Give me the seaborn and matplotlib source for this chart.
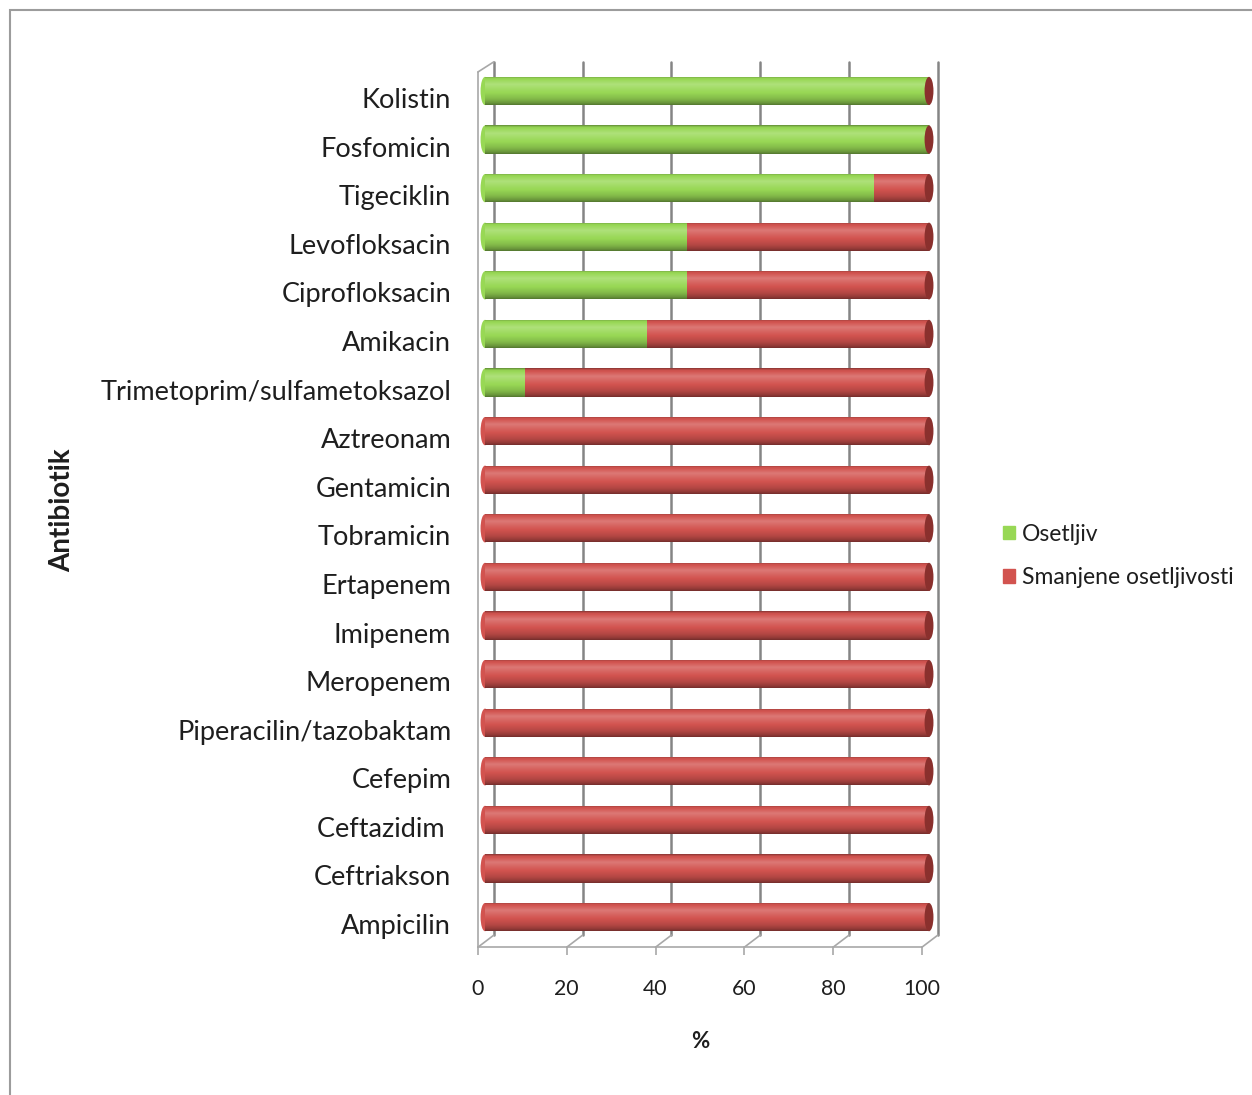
import numpy as np
import pandas as pd
import matplotlib
matplotlib.use("Agg")
import matplotlib.pyplot as plt
import matplotlib.transforms as mtransforms
import seaborn as sns
from matplotlib.patches import Ellipse, Rectangle

# Susceptibility of isolates per antibiotic (%)
antibiotics = [
    "Kolistin", "Fosfomicin", "Tigeciklin", "Levofloksacin", "Ciprofloksacin",
    "Amikacin", "Trimetoprim/sulfametoksazol", "Aztreonam", "Gentamicin",
    "Tobramicin", "Ertapenem", "Imipenem", "Meropenem",
    "Piperacilin/tazobaktam", "Cefepim", "Ceftazidim ", "Ceftriakson", "Ampicilin",
]
osetljiv = [100, 100, 87.5, 45.5, 45.5, 36.4, 9.1, 0, 0, 0, 0, 0, 0, 0, 0, 0, 0, 0]
smanjene = [0, 0, 12.5, 54.5, 54.5, 63.6, 90.9, 100, 100, 100, 100, 100, 100, 100, 100, 100, 100, 100]
x_ticks = [0, 20, 40, 60, 80, 100]

series_names = ["Osetljiv", "Smanjene osetljivosti"]
GREEN = "#98D855"
RED = "#D2534F"
CAP = "#8A302D"
GRID = "#858585"
FRAME = "#A8A8A8"
TEXT = "#1E1E1E"

sns.set_theme(style="white")
plt.rcParams["font.family"] = ["Lato", "DejaVu Sans"]

W, H = 1252, 1095
fig = plt.figure(figsize=(W / 100, H / 100), dpi=100)
ax = fig.add_axes([470 / W, 1 - 955 / H, 475 / W, 900 / H])

df = pd.DataFrame({"Antibiotik": antibiotics, "Osetljiv": osetljiv, "Smanjene": smanjene})
df["Ukupno"] = df["Osetljiv"] + df["Smanjene"]

bar_h = 0.58
sns.barplot(data=df, x="Ukupno", y="Antibiotik", orient="h", color=RED,
            saturation=1, width=bar_h, linewidth=0, ax=ax)
sns.barplot(data=df, x="Osetljiv", y="Antibiotik", orient="h", color=GREEN,
            saturation=1, width=bar_h, linewidth=0, ax=ax)

# cylinder shading: colourless light/dark overlay across the bar height
t = np.linspace(0, 1, 64)
prof = np.interp(t, [0.0, 0.06, 0.28, 0.5, 0.8, 0.94, 1.0],
                 [-0.35, -0.05, 0.22, 0.05, -0.15, -0.32, -0.45])
shade = np.zeros((len(t), 2, 4))
shade[:, :, :3] = np.where(prof[:, None, None] > 0, 1.0, 0.0)
shade[:, :, 3] = np.abs(prof)[:, None]

n = len(antibiotics)
total_patches = ax.patches[:n]
for p in total_patches:
    x0, y0, w, h = p.get_x(), p.get_y(), p.get_width(), p.get_height()
    if w <= 0:
        continue
    im = ax.imshow(shade, extent=(x0, x0 + w, y0 + h, y0), aspect="auto",
                   interpolation="bilinear", zorder=3)
    im.set_clip_path(p)

# rounded ends of the cylinders
for i, (g, tot) in enumerate(zip(df["Osetljiv"], df["Ukupno"])):
    ax.add_patch(Ellipse((0, i), 2.0, bar_h, color=GREEN if g > 0 else RED,
                         zorder=0.9, lw=0))
    ax.add_patch(Ellipse((tot, i), 2.0, bar_h, color=CAP, zorder=4, lw=0))

# 3D frame: back wall grid, floor and left wall
back_top, back_floor, front_floor, front_top = -0.60, 17.37, 17.62, -0.39
dx_front, dx_back = -1.6, 2.0
for v in x_ticks:
    ax.plot([v + dx_back] * 2, [back_top, back_floor], color=GRID, lw=1.8, zorder=0.5)
    ax.plot([v + dx_front, v + dx_back], [front_floor, back_floor], color=FRAME, lw=1.2, zorder=0.5)
    ax.plot([v + dx_front] * 2, [front_floor, front_floor + 0.17], color=FRAME, lw=1.2, zorder=0.5)
ax.plot([x_ticks[0] + dx_front] * 2, [front_top, front_floor], color=FRAME, lw=1.2, zorder=0.5)
ax.plot([x_ticks[0] + dx_front, x_ticks[0] + dx_back], [front_top, back_top], color=FRAME, lw=1.2, zorder=0.5)
ax.plot([x_ticks[0] + dx_front, x_ticks[-1] + dx_front], [front_floor] * 2, color=FRAME, lw=1.2, zorder=0.5)

ax.set_xlim(-3.38, 103.6)
ax.set_ylim(17.78, -0.74)
ax.set_xticks([v + dx_front for v in x_ticks])
ax.set_xticklabels([str(v) for v in x_ticks])
ax.set_yticks(range(n))
ax.set_yticklabels(antibiotics)
ax.tick_params(axis="x", length=0, pad=17, labelsize=15.3, labelcolor=TEXT)
ax.tick_params(axis="y", length=0, pad=13.5, labelsize=19.5, labelcolor=TEXT)
# category labels sit on the front plane, a little below the bar axis
shift = mtransforms.ScaledTranslation(0, -7 / 100, fig.dpi_scale_trans)
for lab in ax.get_yticklabels():
    lab.set_transform(lab.get_transform() + shift)
ax.set_xlabel("")
ax.set_ylabel("")
for s in ax.spines.values():
    s.set_visible(False)

fig.text(62 / W, 1 - 510 / H, "Antibiotik", rotation=90, ha="center", va="center",
         fontsize=20, fontweight="bold", color=TEXT)
fig.text(700 / W, 1 - 1042 / H, "%", ha="center", va="center",
         fontsize=16, fontweight="bold", color=TEXT)

handles = [Rectangle((0, 0), 1, 1, color=GREEN), Rectangle((0, 0), 1, 1, color=RED)]
fig.legend(handles, series_names, loc="center left",
           bbox_to_anchor=(982 / W, 1 - 556 / H), frameon=False, fontsize=16.5,
           handlelength=0.55, handleheight=0.55, handletextpad=0.3, labelspacing=1.0,
           labelcolor=TEXT)

# outer chart border
fig.add_artist(Rectangle((10 / W, -0.02), 1.2, 1 - 10 / H + 0.02, transform=fig.transFigure,
                         fill=False, edgecolor="#9C9C9C", lw=1.5))

fig.savefig("out.png", dpi=100)
